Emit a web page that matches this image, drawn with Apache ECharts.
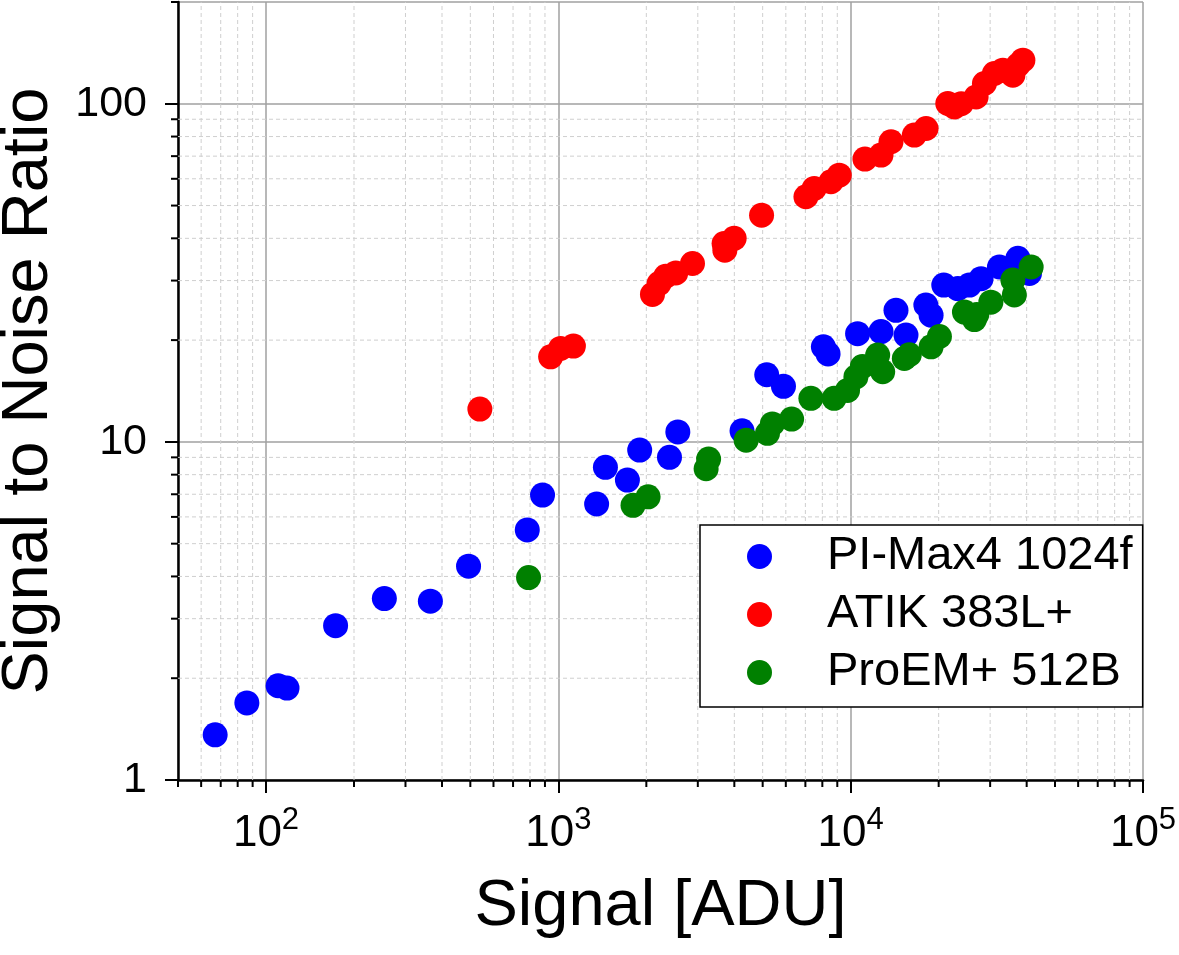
<!DOCTYPE html>
<html>
<head>
<meta charset="utf-8">
<script src="https://cdn.jsdelivr.net/npm/echarts@6/dist/echarts.min.js"></script>
<style>
html,body{margin:0;padding:0;background:#fff;}
#chart{width:1179px;height:955px;}
</style>
</head>
<body>
<div id="chart"></div>
<script>
// ---- data (Signal [ADU], SNR) ----
const piMaxData = [
  [67, 1.36], [86, 1.69], [110, 1.90], [118, 1.87], [173, 2.86], [254, 3.44],
  [365, 3.38], [493, 4.29], [783, 5.49], [883, 6.96], [1352, 6.55], [1449, 8.41],
  [1723, 7.71], [1898, 9.46], [2400, 9.0], [2563, 10.7], [4250, 10.78], [5163, 15.8],
  [5890, 14.6], [8066, 19.1], [8370, 18.2], [10560, 20.9], [12700, 21.2], [14290, 24.5],
  [15460, 20.7], [18080, 25.4], [18840, 23.7], [20820, 29.1], [23250, 28.4], [25470, 29.1],
  [27930, 30.4], [32280, 32.9], [37330, 34.9], [40890, 31.5]
];
const atikData = [
  [539, 12.5], [941, 17.85], [1018, 18.9], [1126, 19.2], [2099, 27.3], [2211, 29.4],
  [2330, 30.9], [2522, 31.6], [2877, 33.7], [3690, 38.6], [3712, 36.9], [3994, 40.0],
  [4957, 46.8], [7030, 53.1], [7506, 56.2], [8560, 58.8], [9140, 61.5], [11190, 68.6],
  [12700, 70.5], [13740, 77.2], [16510, 80.8], [18110, 84.5], [21490, 100.2], [22640, 97.9],
  [23880, 100], [26860, 104.8], [28680, 114.8], [31020, 122.9], [33160, 125.7], [35880, 121.5],
  [37330, 130], [38820, 134.6]
];
const proemData = [
  [791, 3.97], [1801, 6.49], [2028, 6.88], [3203, 8.33], [3266, 8.9], [4390, 10.12],
  [5194, 10.6], [5395, 11.3], [6280, 11.68], [7310, 13.45], [8780, 13.45], [9757, 14.2],
  [10420, 15.57], [10960, 16.7], [12370, 18.06], [12870, 16.12], [15260, 17.65], [15870, 18.1],
  [18840, 19.1], [20120, 20.5], [24500, 24.2], [26500, 23.0], [27000, 23.8], [30170, 25.9],
  [35880, 30.1], [36300, 27.2], [41440, 32.9]
];
const seriesNames = ['PI-Max4 1024f', 'ATIK 383L+', 'ProEM+ 512B'];
const seriesColors = ['#0000ff', '#ff0000', '#008000'];

// ---- axes ----
const X_MIN = 50, X_MAX = 100000;
const Y_MIN = 1, Y_MAX = 200;
const xMinorTicks = [50, 60, 70, 80, 90, 200, 300, 400, 500, 600, 700, 800, 900,
  2000, 3000, 4000, 5000, 6000, 7000, 8000, 9000,
  20000, 30000, 40000, 50000, 60000, 70000, 80000, 90000];
const yMinorTicks = [2, 3, 4, 5, 6, 7, 8, 9, 20, 30, 40, 50, 60, 70, 80, 90, 200];

const FONT = '"Liberation Sans", Arial, sans-serif';
const chart = echarts.init(document.getElementById('chart'));

function minorRender(isX) {
  return function (params, api) {
    const v = api.value(isX ? 0 : 1);
    const children = [];
    if (isX) {
      const b = api.coord([v, Y_MIN]);
      const t = api.coord([v, Y_MAX]);
      if (v !== X_MIN) {
        children.push({type: 'line', shape: {x1: b[0], y1: b[1], x2: t[0], y2: t[1]},
          style: {stroke: '#cfcfcf', lineWidth: 1, lineDash: [4, 3]}});
      }
      children.push({type: 'line', shape: {x1: b[0], y1: b[1], x2: b[0], y2: b[1] + 7},
        style: {stroke: '#000', lineWidth: 2}});
    } else {
      const l = api.coord([X_MIN, v]);
      const r = api.coord([X_MAX, v]);
      if (v !== Y_MAX) {
        children.push({type: 'line', shape: {x1: l[0], y1: l[1], x2: r[0], y2: r[1]},
          style: {stroke: '#cfcfcf', lineWidth: 1, lineDash: [4, 3]}});
      }
      children.push({type: 'line', shape: {x1: l[0] - 7, y1: l[1], x2: l[0], y2: l[1]},
        style: {stroke: '#000', lineWidth: 2}});
    }
    return {type: 'group', children: children};
  };
}

const option = {
  backgroundColor: '#fff',
  animation: false,
  textStyle: {fontFamily: FONT},
  grid: {left: 178, right: 36, top: 2, bottom: 175, containLabel: false, outerBoundsMode: 'none'},
  legend: {
    data: seriesNames,
    orient: 'vertical',
    left: 700, top: 525,
    padding: [8, 10, 11, 47],
    itemWidth: 25, itemHeight: 25, itemGap: 11,
    icon: 'circle',
    backgroundColor: '#fff',
    borderColor: '#000', borderWidth: 1.5,
    selectedMode: false,
    formatter: function (name) { return '{t|' + name + '}'; },
    textStyle: {
      fontFamily: FONT, fontSize: 47, color: '#000',
      rich: {t: {fontFamily: FONT, fontSize: 47, color: '#000', lineHeight: 50, padding: [0, 0, 0, 50]}}
    }
  },
  xAxis: {
    type: 'log', logBase: 10, min: X_MIN, max: X_MAX,
    name: 'Signal [ADU]', nameLocation: 'middle', nameGap: 95,
    nameTextStyle: {fontFamily: FONT, fontSize: 65, color: '#000'},
    axisLine: {show: true, onZero: false, lineStyle: {color: '#000', width: 2.5}},
    axisTick: {show: true, inside: false, length: 13, lineStyle: {color: '#000', width: 2}},
    minorTick: {show: false},
    splitLine: {show: true, lineStyle: {color: '#a0a0a0', width: 1.5}},
    axisLabel: {
      show: true, margin: 25, showMinLabel: false, hideOverlap: false,
      formatter: function (v) {
        const e = Math.round(Math.log10(v));
        return '{b|10}{s|' + e + '}';
      },
      rich: {
        b: {fontFamily: FONT, fontSize: 44, color: '#000', lineHeight: 51, verticalAlign: 'bottom'},
        s: {fontFamily: FONT, fontSize: 31, color: '#000', lineHeight: 51, verticalAlign: 'top'}
      }
    }
  },
  yAxis: {
    type: 'log', logBase: 10, min: Y_MIN, max: Y_MAX,
    name: 'Signal to Noise Ratio', nameLocation: 'middle', nameGap: 116,
    nameTextStyle: {fontFamily: FONT, fontSize: 65, color: '#000'},
    axisLine: {show: true, onZero: false, lineStyle: {color: '#000', width: 2.5}},
    axisTick: {show: true, inside: false, length: 13, lineStyle: {color: '#000', width: 2}},
    minorTick: {show: false},
    splitLine: {show: true, lineStyle: {color: '#a0a0a0', width: 1.5}},
    axisLabel: {
      show: true, margin: 31, showMaxLabel: false, hideOverlap: false,
      fontFamily: FONT, fontSize: 43, color: '#000',
      formatter: function (v) { return String(Math.round(v)); }
    }
  },
  series: [
    {
      type: 'custom', name: 'xminor', silent: true, z: 1, clip: false,
      data: xMinorTicks.map(v => [v, Y_MIN]),
      renderItem: minorRender(true)
    },
    {
      type: 'custom', name: 'yminor', silent: true, z: 1, clip: false,
      data: yMinorTicks.map(v => [X_MIN, v]),
      renderItem: minorRender(false)
    },
    {
      type: 'scatter', name: seriesNames[0], data: piMaxData, symbol: 'circle', symbolSize: 25,
      itemStyle: {color: seriesColors[0], opacity: 1}, z: 3
    },
    {
      type: 'scatter', name: seriesNames[1], data: atikData, symbol: 'circle', symbolSize: 25,
      itemStyle: {color: seriesColors[1], opacity: 1}, z: 3
    },
    {
      type: 'scatter', name: seriesNames[2], data: proemData, symbol: 'circle', symbolSize: 25,
      itemStyle: {color: seriesColors[2], opacity: 1}, z: 3
    }
  ]
};
chart.setOption(option);
</script>
</body>
</html>
